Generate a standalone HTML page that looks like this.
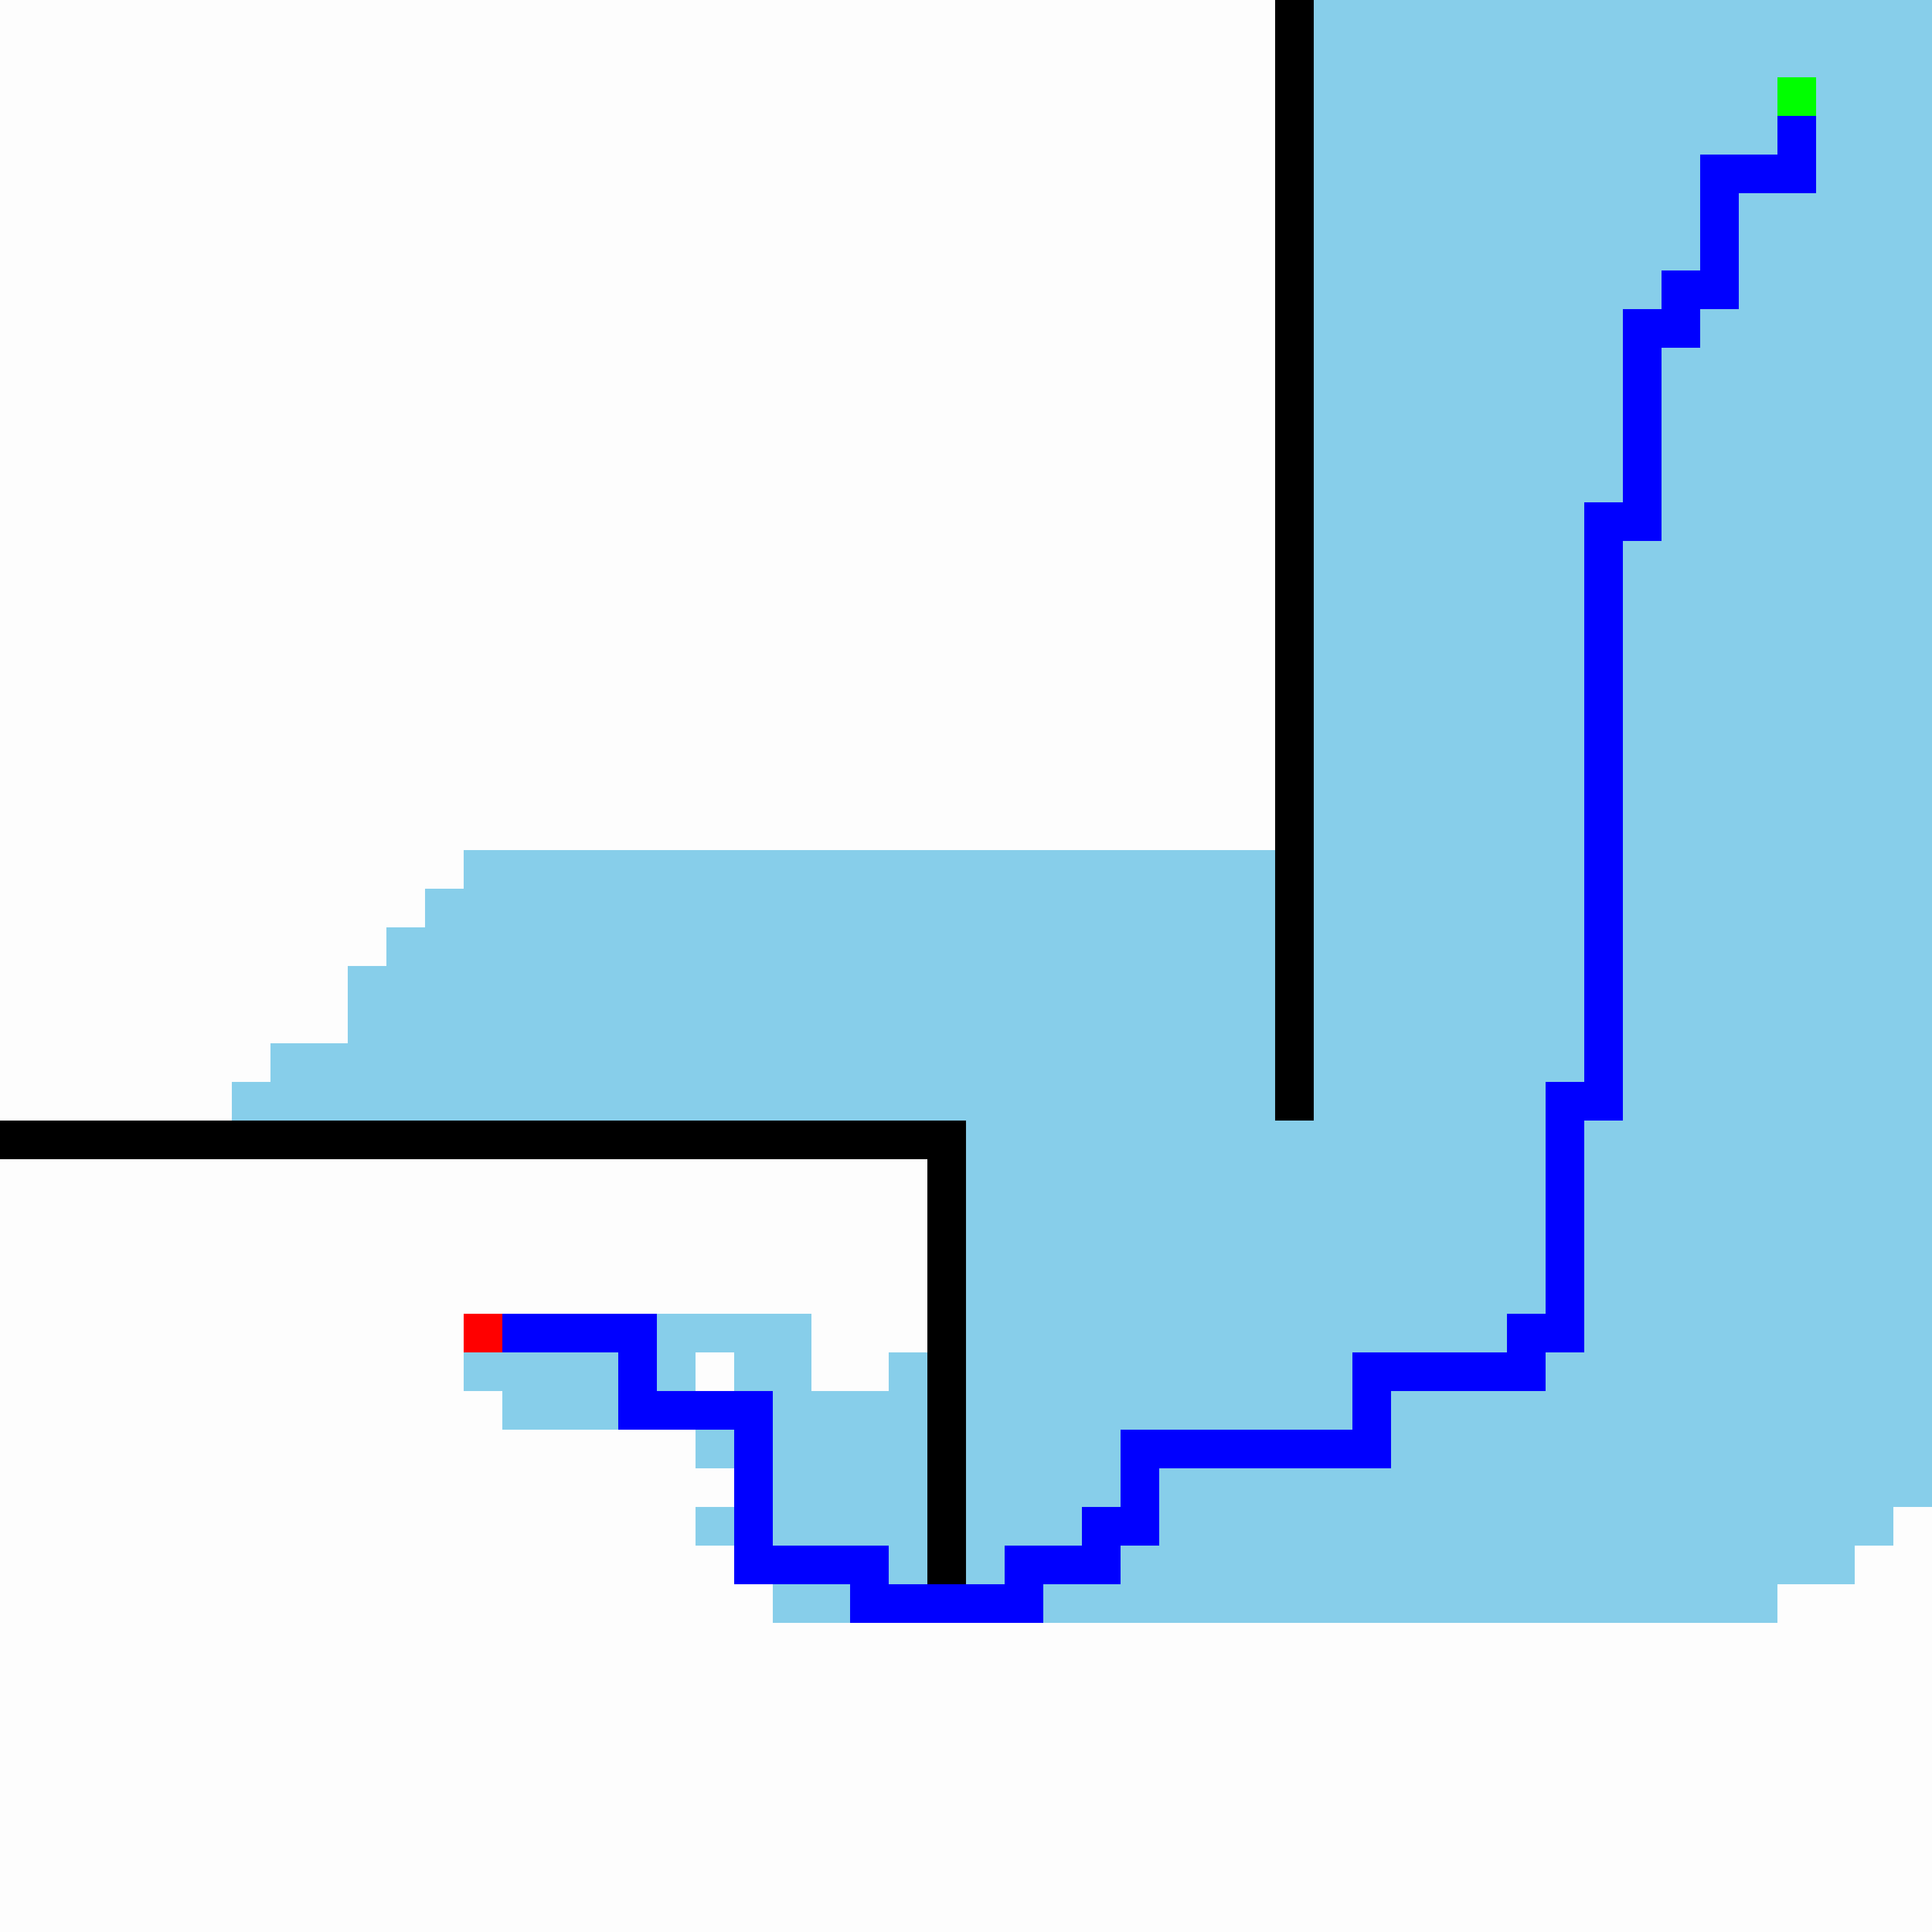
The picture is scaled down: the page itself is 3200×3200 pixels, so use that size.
<!DOCTYPE html>
<html><head><meta charset="utf-8"><style>
html,body{margin:0;padding:0;background:#fdfdfd;}
svg{display:block;}
</style></head><body>
<svg id="grid" width="3200" height="3200" viewBox="0 0 3200 3200" xmlns="http://www.w3.org/2000/svg">
<rect width="3200" height="3200" fill="#fdfdfd"/>
</svg>
<script>
const gridSize = 50;
// explored runs: [row, startCol, endCol]
const exploredRuns = [];
for (let r = 0; r <= 21; r++) exploredRuns.push([r, 34, 49]);
const exploredExtra = [
 [22,12,49],[23,11,49],[24,10,49],[25,9,49],[26,9,49],[27,7,49],[28,6,49],
 [29,25,49],[30,25,49],[31,25,49],[32,25,49],[33,25,49],
 [34,17,20],[34,25,49],
 [35,12,15],[35,17,17],[35,19,20],[35,23,23],[35,25,49],
 [36,13,15],[36,20,23],[36,25,49],
 [37,18,18],[37,20,23],[37,25,49],
 [38,20,23],[38,25,49],
 [39,18,18],[39,20,23],[39,25,48],
 [40,23,23],[40,25,47],
 [41,20,21],[41,27,45]
];
// walls: [col0,row0,col1,row1]
const walls = [[33,0,33,28],[0,29,24,29],[24,29,24,40]];
// path vertices [col,row]
const pathVertices = [[13,34],[16,34],[16,36],[19,36],[19,40],[22,40],[22,41],[26,41],[26,40],[28,40],[28,39],[29,39],[29,37],[35,37],[35,35],[39,35],[39,34],[40,34],[40,28],[41,28],[41,13],[42,13],[42,8],[43,8],[43,7],[44,7],[44,4],[46,4],[46,3]];
const startCell = [12,34];
const goalCell = [46,2];

const svg = document.getElementById('grid');
const NS = 'http://www.w3.org/2000/svg';
const cs = 3200 / gridSize;
const xs = c => c * cs, ys = r => r * cs;
function rect(x,y,w,h,fill,name){
  const e = document.createElementNS(NS,'rect');
  e.setAttribute('x',x);e.setAttribute('y',y);e.setAttribute('width',w);e.setAttribute('height',h);e.setAttribute('fill',fill);
  
  
  svg.appendChild(e);return e;
}
exploredRuns.concat(exploredExtra).forEach(([r,a,b])=>{
  rect(xs(a),ys(r),xs(b+1)-xs(a),cs,'#87ceea','explored-cells');
});
walls.forEach(([c0,r0,c1,r1])=>{
  rect(xs(c0),ys(r0),xs(c1+1)-xs(c0),ys(r1+1)-ys(r0),'#000000','wall');
});
for (let i=0;i<pathVertices.length-1;i++){
  const [c0,r0]=pathVertices[i],[c1,r1]=pathVertices[i+1];
  const ca=Math.min(c0,c1),cb=Math.max(c0,c1),ra=Math.min(r0,r1),rb=Math.max(r0,r1);
  rect(xs(ca),ys(ra),xs(cb+1)-xs(ca),ys(rb+1)-ys(ra),'#0000ff','path-segment');
}
rect(xs(startCell[0]),ys(startCell[1]),cs,cs,'#ff0000','start-cell');
rect(xs(goalCell[0]),ys(goalCell[1]),cs,cs,'#00ff00','goal-cell');
</script>
</body></html>
